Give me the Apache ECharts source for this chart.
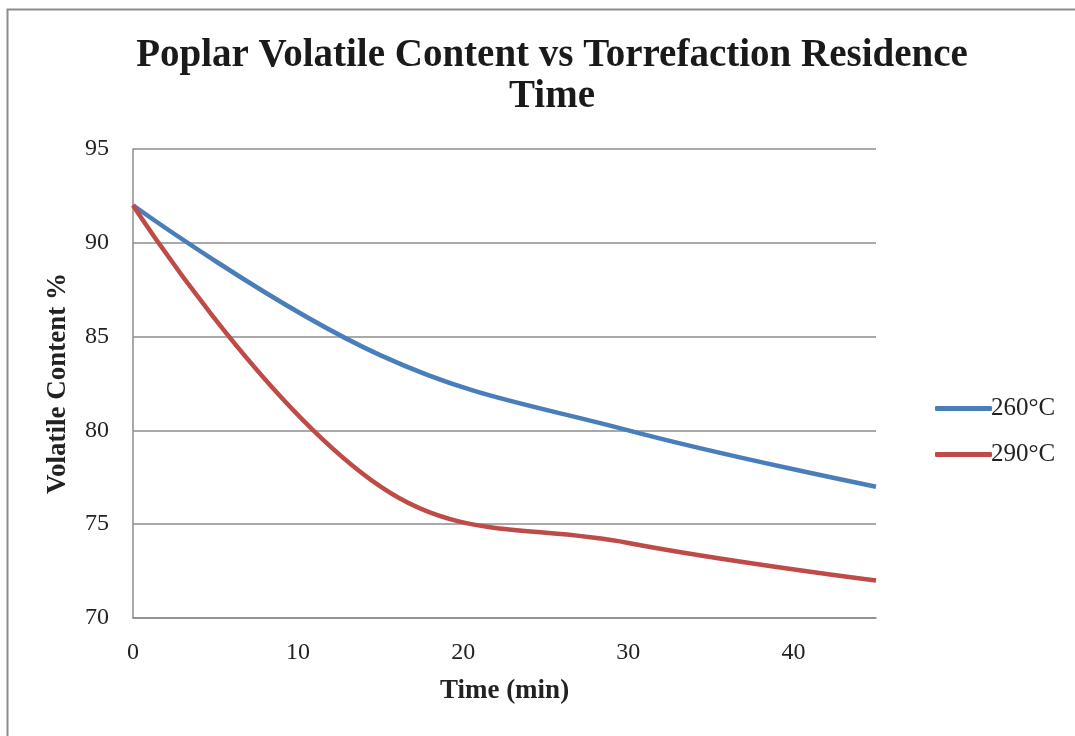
<!DOCTYPE html>
<html>
<head>
    <meta charset="utf-8">
    <title>Poplar Volatile Content</title>
    <script src="https://cdn.jsdelivr.net/npm/echarts@6/dist/echarts.min.js"></script>
    <style>
        body { margin: 0; background: #fff; }
    </style>
</head>
<body>
    <div id="main" style="width: 1075px;height:736px;"></div>
    <script type="text/javascript">
        var times = [0, 15, 30, 45];
        var vc260 = [92, 84, 80, 77];
        var vc290 = [92, 77, 74, 72];
        var names = ['260°C', '290°C'];

        var serif = '"Liberation Serif", "DejaVu Serif", serif';
        var myChart = echarts.init(document.getElementById('main'));

        function pairs(xs, ys) {
            var out = [];
            for (var i = 0; i < xs.length; i++) {
                out.push([xs[i], ys[i]]);
            }
            return out;
        }

        var option = {
            animation: false,
            title: {
                text: 'Poplar Volatile Content vs Torrefaction Residence\nTime',
                left: 547,
                top: 30,
                textAlign: 'center',
                textStyle: {
                    fontFamily: serif,
                    fontWeight: 'bold',
                    fontSize: 39,
                    lineHeight: 41,
                    color: '#1a1a1a'
                }
            },
            graphic: [{
                type: 'polyline',
                shape: { points: [[7.5, 736], [7.5, 9.5], [1075, 9.5]] },
                style: { stroke: '#8c8c8c', lineWidth: 2, fill: null }
            }],
            legend: {
                orient: 'vertical',
                left: 930,
                top: 391,
                icon: 'roundRect',
                itemWidth: 57,
                itemHeight: 5,
                itemGap: 21,
                data: names,
                textStyle: { fontFamily: serif, fontSize: 25, color: '#222', padding: [0, 0, 0, -6] }
            },
            grid: { left: 133, right: 199, top: 149, bottom: 118 },
            xAxis: {
                type: 'value',
                min: 0,
                max: 45,
                interval: 10,
                name: 'Time (min)',
                nameLocation: 'middle',
                nameGap: 60,
                nameTextStyle: { fontFamily: serif, fontWeight: 'bold', fontSize: 27, color: '#222' },
                axisLine: { lineStyle: { color: '#8c8c8c', width: 1.5 } },
                axisTick: { show: false },
                splitLine: { show: false },
                axisLabel: { showMaxLabel: false, margin: 23, fontFamily: serif, fontSize: 24, color: '#222' }
            },
            yAxis: {
                type: 'value',
                min: 70,
                max: 95,
                interval: 5,
                name: 'Volatile Content %',
                nameLocation: 'middle',
                nameGap: 61,
                nameTextStyle: { fontFamily: serif, fontWeight: 'bold', fontSize: 27, color: '#222' },
                axisLine: { show: true, lineStyle: { color: '#8c8c8c', width: 1.5 } },
                axisTick: { show: false },
                splitLine: { lineStyle: { color: '#8c8c8c', width: 1.5 } },
                axisLabel: { margin: 24, fontFamily: serif, fontSize: 24, color: '#222' }
            },
            series: [{
                name: names[0],
                type: 'line',
                smooth: 0.4,
                showSymbol: false,
                data: pairs(times, vc260),
                lineStyle: { width: 4.5, color: '#4a7ebb' },
                itemStyle: { color: '#4a7ebb' }
            }, {
                name: names[1],
                type: 'line',
                smooth: 0.4,
                showSymbol: false,
                data: pairs(times, vc290),
                lineStyle: { width: 4.5, color: '#be4b48' },
                itemStyle: { color: '#be4b48' }
            }]
        };
        myChart.setOption(option);
    </script>
</body>
</html>
